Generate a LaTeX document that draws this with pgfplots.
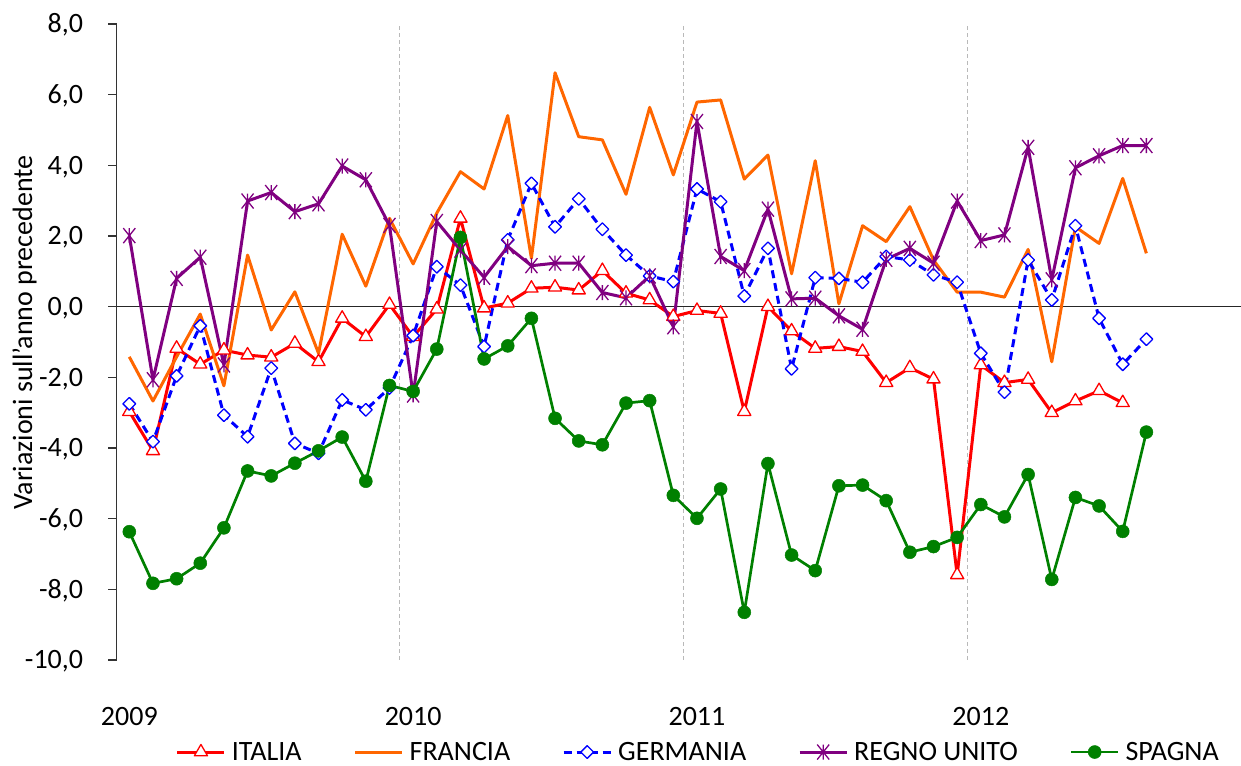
\documentclass[border=0pt]{standalone}
\usepackage{pgfplots}
\pgfplotsset{compat=1.18}
\usepackage{pgfplotstable}
\usepackage{fontspec}
\setmainfont{Carlito}

\definecolor{cIta}{RGB}{255,0,0}
\definecolor{cFra}{RGB}{255,102,0}
\definecolor{cGer}{RGB}{0,0,255}
\definecolor{cUk}{RGB}{128,0,128}
\definecolor{cSpa}{RGB}{0,128,0}

\pgfdeclareplotmark{xstar}{%
  \pgfpathmoveto{\pgfqpoint{0pt}{-\pgfplotmarksize}}%
  \pgfpathlineto{\pgfqpoint{0pt}{\pgfplotmarksize}}%
  \pgfpathmoveto{\pgfqpoint{-0.8\pgfplotmarksize}{-\pgfplotmarksize}}%
  \pgfpathlineto{\pgfqpoint{0.8\pgfplotmarksize}{\pgfplotmarksize}}%
  \pgfpathmoveto{\pgfqpoint{-0.8\pgfplotmarksize}{\pgfplotmarksize}}%
  \pgfpathlineto{\pgfqpoint{0.8\pgfplotmarksize}{-\pgfplotmarksize}}%
  \pgfusepathqstroke}

\pgfplotstableread{
i  ita    fra    ger    uk     spa
0  -2.97  -1.42  -2.75  2.01   -6.37
1  -4.08  -2.67  -3.82  -2.07  -7.83
2  -1.18  -1.42  -1.96  0.80   -7.70
3  -1.63  -0.21  -0.54  1.40   -7.26
4  -1.23  -2.24  -3.07  -1.65  -6.26
5  -1.37  1.46   -3.68  2.99   -4.65
6  -1.43  -0.66  -1.74  3.23   -4.79
7  -1.04  0.42   -3.87  2.69   -4.43
8  -1.56  -1.32  -4.15  2.91   -4.08
9  -0.33  2.05   -2.64  3.98   -3.69
10 -0.85  0.58   -2.92  3.59   -4.94
11 0.06   2.50   -2.30  2.30   -2.23
12 -0.85  1.21   -0.82  -2.50  -2.40
13 -0.07  2.65   1.13   2.41   -1.20
14 2.50   3.82   0.61   1.60   1.96
15 -0.04  3.33   -1.13  0.83   -1.48
16 0.10   5.41   1.89   1.70   -1.11
17 0.52   1.37   3.49   1.16   -0.33
18 0.55   6.62   2.26   1.23   -3.16
19 0.47   4.81   3.05   1.23   -3.80
20 1.02   4.72   2.19   0.40   -3.91
21 0.38   3.18   1.46   0.25   -2.73
22 0.19   5.64   0.87   0.87   -2.66
23 -0.28  3.73   0.71   -0.57  -5.34
24 -0.11  5.79   3.33   5.24   -5.99
25 -0.19  5.85   2.97   1.42   -5.16
26 -2.97  3.61   0.30   1.02   -8.65
27 0.00   4.29   1.65   2.76   -4.44
28 -0.69  0.93   -1.76  0.22   -7.03
29 -1.18  4.13   0.82   0.24   -7.47
30 -1.13  0.08   0.80   -0.26  -5.07
31 -1.27  2.29   0.69   -0.64  -5.05
32 -2.15  1.84   1.42   1.34   -5.49
33 -1.73  2.83   1.32   1.65   -6.95
34 -2.05  1.32   0.90   1.23   -6.79
35 -7.59  0.41   0.69   2.99   -6.53
36 -1.65  0.41   -1.32  1.87   -5.60
37 -2.15  0.27   -2.42  2.03   -5.95
38 -2.06  1.62   1.32   4.51   -4.75
39 -3.00  -1.56  0.19   0.76   -7.72
40 -2.67  2.26   2.29   3.93   -5.40
41 -2.38  1.79   -0.33  4.27   -5.64
42 -2.72  3.63   -1.63  4.56   -6.36
43 nan    1.51   -0.92  4.56   -3.55
}\data

\begin{document}
\begin{tikzpicture}[font=\fontsize{28}{34}\selectfont]
\useasboundingbox (0,0) rectangle (1241pt,765pt);
\begin{axis}[
  at={(116.7pt,105pt)}, anchor=south west,
  scale only axis, width=1124.3pt, height=636pt,
  xmin=-0.533, xmax=47, ymin=-10, ymax=8,
  axis lines*=left,
  x axis line style={draw=none},
  y axis line style={-, line width=1.3pt, color=black!80},
  ytick={-10,-8,...,8},
  tick align=outside,
  major tick length=8.4pt,
  y tick style={line width=1.3pt, black!80},
  xtick={0,12,24,36}, xticklabels={2009,2010,2011,2012},
  x tick style={draw=none},
  xticklabel style={anchor=base, yshift=-57pt},
  yticklabel style={anchor=base east, inner xsep=0pt, yshift=-9pt, xshift=-25pt},
  /pgf/number format/fixed, /pgf/number format/fixed zerofill,
  /pgf/number format/precision=1, /pgf/number format/use comma,
  /pgf/number format/assume math mode=true,
  extra x ticks={11.42,23.45,35.45}, extra x tick labels={},
  extra x tick style={grid=major, major grid style={gray!55, line width=1pt, dash pattern=on 4pt off 3pt}, major tick length=0pt},
  extra y ticks={0}, extra y tick labels={},
  extra y tick style={grid=major, major grid style={black!85, line width=1.6pt}},
  ylabel={Variazioni sull'anno precedente},
  ylabel style={at={(axis description cs:-0.0753,0.515)}, anchor=base},
  legend columns=5,
  legend cell align=left,
  legend style={draw=none, fill=none, inner sep=0pt,
    at={(axis description cs:0.0525,-0.1447)}, anchor=west,
    nodes={inner xsep=3pt, inner ysep=0pt},
    /tikz/every odd column/.append style={column sep=3pt},
    /tikz/every even column/.append style={column sep=49pt}},
  legend image code/.code={\draw[mark repeat=2,mark phase=2] plot coordinates {(0pt,0pt) (23.5pt,0pt) (47pt,0pt)};},
  line join=round,
]
\addplot[color=cIta, line width=3pt, mark=triangle*, mark size=7.6pt, mark options={fill=white, draw=cIta, line width=1.3pt, solid}] table[x=i,y=ita]{\data};
\addlegendentry{ITALIA}
\addplot[color=cFra, line width=3pt, no markers] table[x=i,y=fra]{\data};
\addlegendentry{FRANCIA}
\addplot[color=cGer, line width=3pt, dash pattern=on 8pt off 5pt, mark=square*, mark size=4.5pt, mark options={rotate=45, fill=white, draw=cGer, line width=1.3pt, solid}] table[x=i,y=ger]{\data};
\addlegendentry{GERMANIA}
\addplot[color=cUk, line width=3pt, mark=xstar, mark size=7.5pt, mark options={line width=1.3pt, solid}] table[x=i,y=uk]{\data};
\addlegendentry{REGNO UNITO}
\addplot[color=cSpa, line width=2.7pt, mark=*, mark size=6.5pt, mark options={fill=cSpa, draw=cSpa, line width=0.5pt, solid}] table[x=i,y=spa]{\data};
\addlegendentry{SPAGNA}
\end{axis}
\end{tikzpicture}
\end{document}
